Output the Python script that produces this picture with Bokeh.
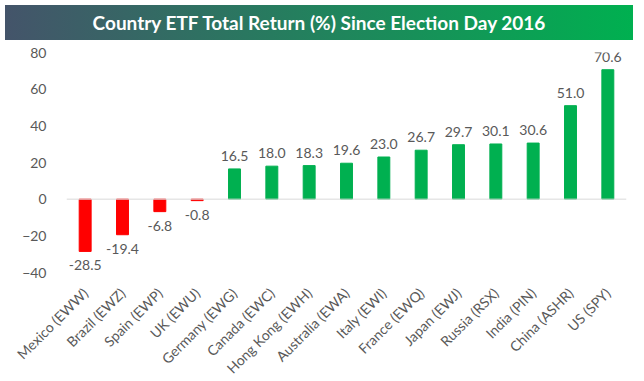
from bokeh.plotting import figure
from bokeh.models import ColumnDataSource, Range1d, FixedTicker, Span, Div
from bokeh.layouts import column
from bokeh.embed import file_html
from bokeh.resources import INLINE
from bokeh.core.properties import value
import math

title = "Country ETF Total Return (%) Since Election Day 2016"
countries = ["Mexico (EWW)", "Brazil (EWZ)", "Spain (EWP)", "UK (EWU)", "Germany (EWG)",
             "Canada (EWC)", "Hong Kong (EWH)", "Australia (EWA)", "Italy (EWI)",
             "France (EWQ)", "Japan (EWJ)", "Russia (RSX)", "India (PIN)",
             "China (ASHR)", "US (SPY)"]
returns = [-28.5, -19.4, -6.8, -0.8, 16.5, 18.0, 18.3, 19.6, 23.0, 26.7, 29.7, 30.1, 30.6, 51.0, 70.6]
y_ticks = [-40, -20, 0, 20, 40, 60, 80]

FONT = "Lato"
GREY = "#595959"

colors = ["#ff0000" if v < 0 else "#00b050" for v in returns]
labels = [f"{v:.1f}" for v in returns]
pos = [v >= 0 for v in returns]

src_all = ColumnDataSource(dict(x=countries, top=returns, color=colors))
src_pos = ColumnDataSource(dict(x=[c for c, p in zip(countries, pos) if p],
                                y=[v for v, p in zip(returns, pos) if p],
                                t=[l for l, p in zip(labels, pos) if p]))
src_neg = ColumnDataSource(dict(x=[c for c, p in zip(countries, pos) if not p],
                                y=[v for v, p in zip(returns, pos) if not p],
                                t=[l for l, p in zip(labels, pos) if not p]))

p = figure(x_range=countries, y_range=Range1d(y_ticks[0], y_ticks[-1]),
           frame_width=560, frame_height=220,
           min_border_left=66, min_border_right=2, min_border_top=7, min_border_bottom=0,
           output_backend="svg", toolbar_location=None)
p.outline_line_color = None
p.background_fill_color = "white"
p.border_fill_color = "white"
p.xgrid.grid_line_color = None
p.ygrid.grid_line_color = None

p.vbar(x="x", top="top", bottom=0, width=0.32, color="color", source=src_all)
p.add_layout(Span(location=0, dimension="width", line_color="#d9d9d9", line_width=1))

p.text(x="x", y="y", text="t", source=src_pos, text_align="center", text_baseline="bottom",
       y_offset=-8, text_font=value(FONT), text_font_size="14px", text_color=GREY)
p.text(x="x", y="y", text="t", source=src_neg, text_align="center", text_baseline="top",
       y_offset=9, text_font=value(FONT), text_font_size="14px", text_color=GREY)

p.yaxis.ticker = FixedTicker(ticks=y_ticks)
p.yaxis.axis_line_color = None
p.yaxis.major_tick_line_color = None
p.yaxis.minor_tick_line_color = None
p.yaxis.major_label_text_font = FONT
p.yaxis.major_label_text_font_size = "14px"
p.yaxis.major_label_text_color = GREY
p.yaxis.major_label_standoff = 14

p.xaxis.axis_line_color = None
p.xaxis.major_tick_line_color = None
p.xaxis.minor_tick_line_color = None
p.xaxis.major_label_orientation = math.pi / 4
p.xaxis.major_label_text_font = FONT
p.xaxis.major_label_text_font_size = "14px"
p.xaxis.major_label_text_color = GREY
p.xaxis.major_label_standoff = 12

head = Div(text=(
    '<div style="width:628px;height:35px;'
    'background:linear-gradient(to right,#44546a,#00b050);'
    'color:white;font-family:Lato;font-weight:bold;font-size:19px;'
    'display:flex;align-items:center;justify-content:center;">'
    + title + '</div>'), width=628, height=35)

layout = column(head, p, spacing=0)
open("out.html", "w").write(file_html(layout, INLINE))
